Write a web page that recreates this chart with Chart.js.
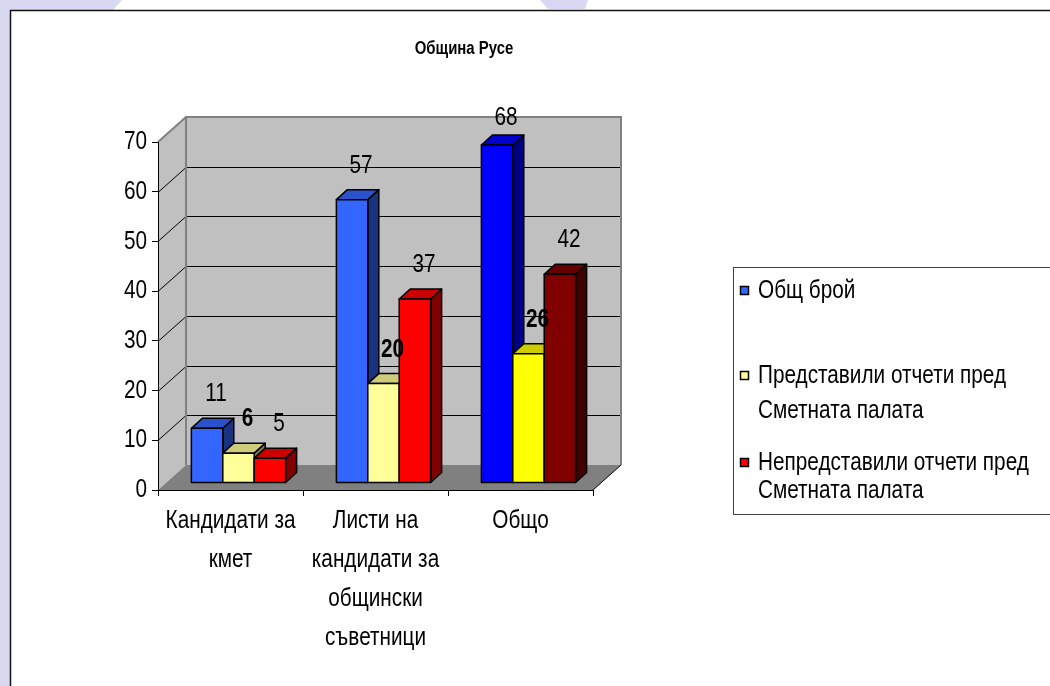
<!DOCTYPE html>
<html>
<head>
<meta charset="utf-8">
<script src="https://cdn.jsdelivr.net/npm/chart.js@4.4.1/dist/chart.umd.min.js"></script>
<style>
  html, body { margin: 0; padding: 0; background: #fff; overflow: hidden; }
  #wrap { width: 1050px; height: 686px; position: relative; }
  canvas { display: block; }
</style>
</head>
<body>
<div id="wrap"><canvas id="c" width="1050" height="686"></canvas></div>
<script>
// ---------------- DATA ----------------
const chartTitle = 'Община Русе';
const categories = [
  ['Кандидати за', 'кмет'],
  ['Листи на', 'кандидати за', 'общински', 'съветници'],
  ['Общо']
];
const seriesNames = [
  ['Общ брой'],
  ['Представили отчети пред', 'Сметната палата'],
  ['Непредставили отчети пред', 'Сметната палата']
];
const totalCount  = [11, 57, 68];
const reported    = [6, 20, 26];
const notReported = [5, 37, 42];
const yTicks = [0, 10, 20, 30, 40, 50, 60, 70];

// ---------------- STYLE ----------------
const FF = "'Liberation Sans',Arial,sans-serif";
const NARROW = 0.83;           // horizontal squeeze to mimic a narrow face
const frontColors = [
  ['#3366ff', '#3366ff', '#0000ff'],
  ['#ffff99', '#ffff99', '#ffff00'],
  ['#ff0000', '#ff0000', '#800000']
];
const topColors = [
  ['#2a52cc', '#2a52cc', '#0000cc'],
  ['#cccc7a', '#cccc7a', '#cccc00'],
  ['#cc0000', '#cc0000', '#660000']
];
const sideColors = [
  ['#1a3380', '#1a3380', '#000080'],
  ['#80804d', '#80804d', '#808000'],
  ['#800000', '#800000', '#400000']
];
const labelBold = [false, true, false];
const WALL = { dx: 28, dy: -25 };
const BAR_OFF = { dx: 8, dy: -7 };
const BAR_DEPTH = { dx: 11, dy: -10 };

function poly(ctx, pts, fill, stroke, lw) {
  ctx.beginPath();
  ctx.moveTo(pts[0][0], pts[0][1]);
  for (let i = 1; i < pts.length; i++) ctx.lineTo(pts[i][0], pts[i][1]);
  ctx.closePath();
  if (fill) { ctx.fillStyle = fill; ctx.fill(); }
  if (stroke) { ctx.strokeStyle = stroke; ctx.lineWidth = lw || 1; ctx.stroke(); }
}
function txt(ctx, s, x, y, align, font) {
  ctx.save();
  ctx.font = font;
  ctx.fillStyle = '#000';
  ctx.textBaseline = 'middle';
  ctx.textAlign = align;
  ctx.translate(x, y);
  ctx.scale(NARROW, 1.04);
  ctx.fillText(s, 0, 0);
  ctx.restore();
}

const scenePlugin = {
  id: 'scene3d',
  beforeDraw(chart) {
    const ctx = chart.ctx;
    const W = chart.width, H = chart.height;
    ctx.save();
    ctx.fillStyle = '#ffffff';
    ctx.fillRect(0, 0, W, H);
    ctx.fillStyle = '#d8d8f2';
    ctx.fillRect(0, 0, 10, H);
    poly(ctx, [[0, 0], [122, 0], [113, 10], [0, 10]], '#d8d8f2');
    poly(ctx, [[540, 0], [588, 0], [585, 9], [548, 9]], '#d8d8f2');
    ctx.strokeStyle = '#111';
    ctx.lineWidth = 1.5;
    ctx.beginPath();
    ctx.moveTo(10.5, H); ctx.lineTo(10.5, 10.5); ctx.lineTo(W, 10.5);
    ctx.stroke();

    const xs = chart.scales.x, ys = chart.scales.y;
    const L = xs.left, R = xs.right;
    const T = ys.getPixelForValue(ys.max), B = ys.getPixelForValue(ys.min);
    const dx = WALL.dx, dy = WALL.dy;
    poly(ctx, [[L, T], [L + dx, T + dy], [L + dx, B + dy], [L, B]], '#c0c0c0');
    poly(ctx, [[L + dx, T + dy], [R + dx, T + dy], [R + dx, B + dy], [L + dx, B + dy]], '#c0c0c0');
    poly(ctx, [[L, B], [R, B], [R + dx, B + dy], [L + dx, B + dy]], '#808080');
    ctx.strokeStyle = '#000';
    ctx.lineWidth = 1;
    ys.ticks.forEach(t => {
      if (t.value <= ys.min || t.value >= ys.max) return;
      const p = Math.round(ys.getPixelForValue(t.value)) + 0.5;
      ctx.beginPath();
      ctx.moveTo(L + dx, p + dy); ctx.lineTo(R + dx, p + dy);
      ctx.moveTo(L, p); ctx.lineTo(L + dx, p + dy);
      ctx.stroke();
    });
    ctx.strokeStyle = '#808080';
    ctx.lineWidth = 2;
    ctx.beginPath();
    ctx.moveTo(L, T); ctx.lineTo(L + dx, T + dy); ctx.lineTo(R + dx, T + dy); ctx.lineTo(R + dx, B + dy);
    ctx.moveTo(L + dx, T + dy); ctx.lineTo(L + dx, B + dy);
    ctx.stroke();
    ctx.strokeStyle = '#000';
    ctx.lineWidth = 1;
    ctx.beginPath();
    ctx.moveTo(R, B); ctx.lineTo(R + dx, B + dy);
    ctx.stroke();
    ctx.restore();
  },
  afterDatasetsDraw(chart) {
    const ctx = chart.ctx;
    const items = [];
    chart.data.datasets.forEach((ds, di) => {
      const meta = chart.getDatasetMeta(di);
      meta.data.forEach((el, i) => {
        const p = el.getProps(['x', 'y', 'base', 'width'], true);
        items.push({ di, i, p, v: ds.data[i] });
      });
    });
    items.sort((a, b) => a.p.x - b.p.x);
    ctx.save();
    ctx.lineJoin = 'round';
    const bx = BAR_DEPTH.dx, by = BAR_DEPTH.dy;
    items.forEach(it => {
      const { x, y, base, width } = it.p;
      const l = x - width / 2 + BAR_OFF.dx, r = x + width / 2 + BAR_OFF.dx;
      const t = y + BAR_OFF.dy, b = base + BAR_OFF.dy;
      poly(ctx, [[r, t], [r + bx, t + by], [r + bx, b + by], [r, b]], sideColors[it.di][it.i], '#000', 1.5);
      poly(ctx, [[l, t], [r, t], [r + bx, t + by], [l + bx, t + by]], topColors[it.di][it.i], '#000', 1.5);
      poly(ctx, [[l, t], [r, t], [r, b], [l, b]], frontColors[it.di][it.i], '#000', 1.5);
    });
    ctx.restore();
    // value labels
    const top = chart.chartArea.top;
    items.forEach(it => {
      const { x, y } = it.p;
      const font = (labelBold[it.di] ? 'bold ' : '') + '25px ' + FF;
      const lx = x + BAR_OFF.dx + 9;
      const ly = Math.max(y + BAR_OFF.dy - 34, top - 24);
      txt(ctx, String(it.v), lx, ly, 'center', font);
    });
  },
  afterDraw(chart) {
    const ctx = chart.ctx;
    const xs = chart.scales.x, ys = chart.scales.y;
    const font = '25px ' + FF;
    // y tick labels
    ys.ticks.forEach(t => {
      txt(ctx, String(t.value), xs.left - 11, ys.getPixelForValue(t.value), 'right', font);
    });
    // x tick labels
    chart.data.labels.forEach((lab, i) => {
      const px = xs.getPixelForTick(i);
      lab.forEach((ln, k) => txt(ctx, ln, px, xs.top + 31 + k * 38.8, 'center', font));
    });
    // title
    txt(ctx, chartTitle, 464, 49, 'center', 'bold 18px ' + FF);
    // legend
    ctx.save();
    ctx.fillStyle = '#fff';
    ctx.fillRect(733.5, 267.5, 330, 247);
    ctx.strokeStyle = '#404040';
    ctx.lineWidth = 1;
    ctx.strokeRect(733.5, 267.5, 330, 247);
    const itemY = [[291], [376, 411], [463, 491]];
    seriesNames.forEach((lines, si) => {
      const ys0 = itemY[si];
      ctx.fillStyle = frontColors[si][0];
      ctx.fillRect(740.5, ys0[0] - 4.5, 8, 8);
      ctx.strokeStyle = '#000';
      ctx.lineWidth = 1.5;
      ctx.strokeRect(740.5, ys0[0] - 4.5, 8, 8);
      lines.forEach((ln, k) => txt(ctx, ln, 758, ys0[k], 'left', font));
    });
    ctx.restore();
  }
};

const ctx = document.getElementById('c').getContext('2d');
new Chart(ctx, {
  type: 'bar',
  data: {
    labels: categories,
    datasets: [
      { label: seriesNames[0].join(' '), data: totalCount },
      { label: seriesNames[1].join(' '), data: reported },
      { label: seriesNames[2].join(' '), data: notReported }
    ].map(d => Object.assign(d, { backgroundColor: 'rgba(0,0,0,0)', borderWidth: 0 }))
  },
  options: {
    responsive: false,
    animation: false,
    devicePixelRatio: 1,
    layout: { padding: { left: 0, right: 457, top: 142, bottom: 0 } },
    datasets: { bar: { barPercentage: 1, categoryPercentage: 0.65 } },
    plugins: { legend: { display: false }, title: { display: false }, tooltip: { enabled: false } },
    scales: {
      x: {
        offset: true,
        grid: { display: true, drawOnChartArea: false, drawTicks: true, tickLength: 6, color: '#000', offset: true },
        border: { display: true, color: '#000', width: 1 },
        ticks: { display: false },
        afterFit(s) { s.height = 196; }
      },
      y: {
        min: 0, max: 70,
        afterBuildTicks(s) { s.ticks = yTicks.map(v => ({ value: v })); },
        grid: { display: true, drawOnChartArea: false, drawTicks: true, tickLength: 6, color: '#000' },
        border: { display: true, color: '#000', width: 1 },
        ticks: { display: false },
        afterFit(s) { s.width = 158; }
      }
    }
  },
  plugins: [scenePlugin]
});
</script>
</body>
</html>
